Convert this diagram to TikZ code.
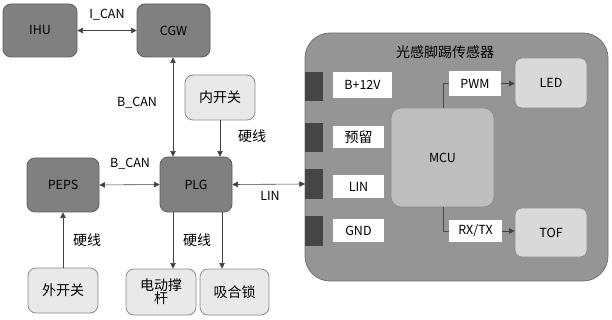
\documentclass[tikz,border=0pt]{standalone}
\usepackage{fontspec}
\setmainfont{Noto Sans CJK SC}
\usetikzlibrary{arrows.meta}
\definecolor{darkbox}{HTML}{808080}
\definecolor{darkline}{HTML}{5E5E5E}
\definecolor{lightbox}{HTML}{E9E9E9}
\definecolor{lightline}{HTML}{8A8A8A}
\definecolor{sensor}{HTML}{959595}
\definecolor{mcu}{HTML}{BEBEBE}
\definecolor{ledc}{HTML}{D9D9D9}
\definecolor{pin}{HTML}{454545}
\tikzset{
  darkb/.style={draw=darkline, fill=darkbox, rounded corners=8pt, line width=0.8pt, font=\fontsize{12.5}{14}\selectfont},
  lightb/.style={draw=lightline, fill=lightbox, rounded corners=8pt, line width=0.8pt, font=\fontsize{14}{16}\selectfont, align=center},
  pinb/.style={fill=pin, draw=none},
  tagb/.style={fill=white, draw=none, font=\fontsize{12.5}{14}\selectfont},
  lbl/.style={font=\fontsize{12.5}{14}\selectfont},
  zlbl/.style={font=\fontsize{14}{16}\selectfont},
  arr/.style={-{Triangle[length=5.5pt,width=5.5pt]}, draw=black!75, line width=0.6pt},
  darr/.style={{Triangle[length=5.5pt,width=5.5pt]}-{Triangle[length=5.5pt,width=5.5pt]}, draw=black!75, line width=0.6pt},
  vline/.style={draw=black!70, line width=0.6pt}
}
\begin{document}
\begin{tikzpicture}[x=1pt,y=-1pt]
\useasboundingbox (0,0) rectangle (612,320);
% sensor body
\draw[fill=sensor, draw=black!55, line width=0.8pt, rounded corners=25pt] (305,33) rectangle (608,281);
\node[zlbl] (title) at (445,52) {光感脚踢传感器};
% left side nodes
\node[darkb, minimum width=74pt, minimum height=53pt] (IHU) at (40,30.5) {IHU};
\node[darkb, minimum width=73pt, minimum height=53pt] (CGW) at (173.5,30.5) {CGW};
\node[lightb, minimum width=70pt, minimum height=45pt] (nei) at (220,97.5) {内开关};
\node[darkb, minimum width=72pt, minimum height=54pt] (PEPS) at (63,185) {PEPS};
\node[darkb, minimum width=72pt, minimum height=55pt] (PLG) at (196,184.5) {PLG};
\node[lightb, minimum width=70pt, minimum height=45pt] (wai) at (63,290.5) {外开关};
\node[lightb, minimum width=70pt, minimum height=46pt, inner sep=1pt] (gan) at (161,292) {电动撑\\[-3pt]杆};
\node[lightb, minimum width=69pt, minimum height=46pt] (suo) at (234.5,292) {吸合锁};
% pins
\node[pinb, minimum width=18pt, minimum height=29pt] (p1) at (314,86.5) {};
\node[pinb, minimum width=18pt, minimum height=29pt] (p2) at (314,137.5) {};
\node[pinb, minimum width=18pt, minimum height=30pt] (p3) at (314,184) {};
\node[pinb, minimum width=18pt, minimum height=30pt] (p4) at (314,231) {};
\node[tagb, minimum width=59pt, minimum height=26pt] (t1) at (362.5,85) {B+12V};
\node[tagb, minimum width=51pt, minimum height=22pt, font=\fontsize{14}{16}\selectfont] (t2) at (358.5,137) {预留};
\node[tagb, minimum width=51pt, minimum height=23pt] (t3) at (358.5,186.5) {LIN};
\node[tagb, minimum width=51pt, minimum height=23pt] (t4) at (358.5,230.5) {GND};
% MCU etc
\node[draw=black!45, fill=mcu, rounded corners=10pt, minimum width=103pt, minimum height=99pt, line width=0.8pt, font=\fontsize{12.5}{14}\selectfont] (MCU) at (442.5,157.5) {MCU};
\node[tagb, minimum width=52pt, minimum height=25pt] (PWM) at (475,83.5) {PWM};
\node[tagb, minimum width=53pt, minimum height=22pt] (RX) at (475.5,231) {RX/TX};
\node[draw=black!45, fill=ledc, rounded corners=7pt, minimum width=72pt, minimum height=50pt, line width=0.8pt, font=\fontsize{12.5}{14}\selectfont] (LED) at (551,83) {LED};
\node[draw=black!45, fill=ledc, rounded corners=7pt, minimum width=72pt, minimum height=49pt, line width=0.8pt, font=\fontsize{12.5}{14}\selectfont] (TOF) at (551,232.5) {TOF};
% connectors
\draw[darr] (IHU.east) -- (CGW.west);
\coordinate (cgwb) at ([xshift=-0.5pt]CGW.south);
\draw[darr] (cgwb) -- (cgwb |- PLG.north);
\draw[arr] (nei.south) -- (nei.south |- PLG.north);
\draw[darr] (PEPS.east) -- (PLG.west);
\draw[arr] (wai.north) -- (PEPS.south);
\coordinate (plgb1) at ([xshift=-23pt]PLG.south);
\coordinate (plgb2) at ([xshift=26pt]PLG.south);
\draw[arr] (plgb1) -- (plgb1 |- gan.north);
\draw[arr] (plgb2) -- (plgb2 |- suo.north);
\draw[darr] (PLG.east) -- (p3.west);
\coordinate (mt) at ([xshift=0.5pt]MCU.north);
\draw[vline] (mt) |- (PWM.west);
\coordinate (mb) at ([xshift=0.5pt]MCU.south);
\draw[vline] (mb) |- (RX.west);
\draw[arr] (PWM.east) -- (LED.west |- PWM.east);
\draw[arr] (RX.east) -- (TOF.west |- RX.east);
% labels
\node[lbl] (lican) at (107,15) {I\_CAN};
\node[lbl] (lbcan1) at (137,103) {B\_CAN};
\node[zlbl] (lyx1) at (252,136) {硬线};
\node[lbl] (lbcan2) at (130,164) {B\_CAN};
\node[lbl] (llin) at (270,196) {LIN};
\node[zlbl] (lyx2) at (87,240) {硬线};
\node[zlbl] (lyx3) at (197,240) {硬线};
\end{tikzpicture}
\end{document}
